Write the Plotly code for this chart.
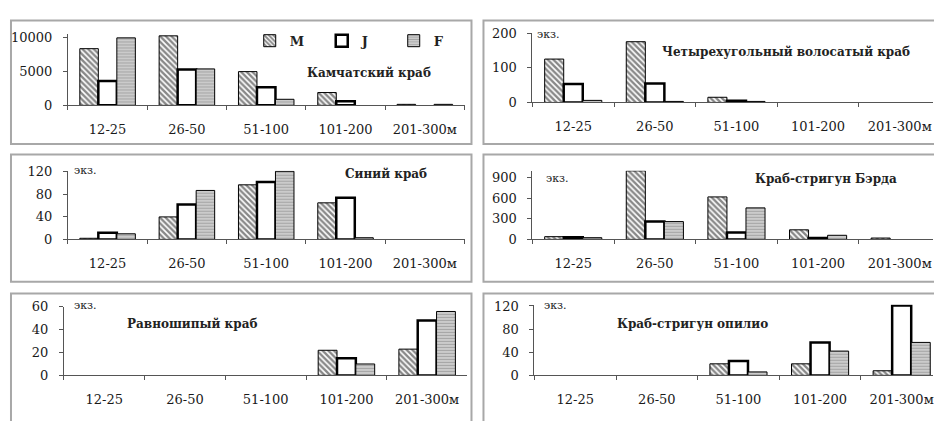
import plotly.graph_objects as go

W, H = 934, 421

categories = ["12-25", "26-50", "51-100", "101-200", "201-300м"]
series_names = ["M", "J", "F"]

# Камчатский краб
kam_M = [8400, 10300, 5000, 1900, 150]
kam_J = [3600, 5300, 2700, 600, 0]
kam_F = [10000, 5400, 900, 0, 150]

# Четырехугольный волосатый краб
chet_M = [125, 175, 15, 0, 0]
chet_J = [53, 55, 5, 0, 0]
chet_F = [6, 3, 3, 0, 0]

# Синий краб
sin_M = [2, 40, 97, 65, 0]
sin_J = [12, 62, 102, 74, 0]
sin_F = [10, 87, 121, 3, 0]

# Краб-стригун Бэрда
berd_M = [40, 1000, 620, 140, 20]
berd_J = [30, 260, 100, 20, 0]
berd_F = [25, 260, 460, 60, 0]

# Равношипый краб
rav_M = [0, 0, 0, 22, 23]
rav_J = [0, 0, 0, 15, 48]
rav_F = [0, 0, 0, 10, 56]

# Краб-стригун опилио
op_M = [0, 0, 20, 20, 8]
op_J = [0, 0, 25, 57, 121]
op_F = [0, 0, 6, 42, 57]

titles = ["Камчатский краб", "Четырехугольный волосатый краб", "Синий краб",
          "Краб-стригун Бэрда", "Равношипый краб", "Краб-стригун опилио"]
data_M = [kam_M, chet_M, sin_M, berd_M, rav_M, op_M]
data_J = [kam_J, chet_J, sin_J, berd_J, rav_J, op_J]
data_F = [kam_F, chet_F, sin_F, berd_F, rav_F, op_F]
y_max = [10500, 200, 122, 1000, 60, 122]
y_dtick = [5000, 100, 40, 300, 20, 40]
unit_label = "экз."

# panel geometry in pixels: left, right, y of zero, y of top of range, x-range max
geom = [
    dict(l=68, r=465, y0=102, yt=28.5, xmax=4.5),
    dict(l=533, r=934, y0=99, yt=27, xmax=-0.5 + (934 - 533) / 81.7),
    dict(l=68, r=465, y0=241, yt=169.8, xmax=4.5),
    dict(l=533, r=934, y0=241, yt=169.9, xmax=-0.5 + (934 - 533) / 81.7),
    dict(l=64, r=468, y0=382, yt=311, xmax=4.5),
    dict(l=535, r=934, y0=382, yt=308.8, xmax=-0.5 + (934 - 535) / 81.7),
]
title_pos = [(305, 68), (661, 47), (343, 173), (754, 178), (125, 329), (616, 329)]
unit_pos = [None, (536, 28), (72, 170), (545, 178), (72, 310), (543, 310)]

FONT = "DejaVu Serif"

def px(x):
    return x / W

def py(y):
    return 1 - y / H

def nz(vals):
    # zero counts are drawn as no bar at all
    return [v if v else None for v in vals]

fig = go.Figure()

for i in range(6):
    n = "" if i == 0 else str(i + 1)
    xa, ya = "x" + n, "y" + n
    show = i == 0
    fig.add_trace(go.Bar(
        x=categories, y=nz(data_M[i]), name=series_names[0], xaxis=xa, yaxis=ya,
        showlegend=show, legendgroup="M",
        marker=dict(color="white", line=dict(color="black", width=1),
                    pattern=dict(shape="\\", fgcolor="#111111", bgcolor="white",
                                 size=4, solidity=0.6)),
    ))
    fig.add_trace(go.Bar(
        x=categories, y=nz(data_J[i]), name=series_names[1], xaxis=xa, yaxis=ya,
        showlegend=show, legendgroup="J",
        marker=dict(color="white", line=dict(color="black", width=2.5)),
    ))
    fig.add_trace(go.Bar(
        x=categories, y=nz(data_F[i]), name=series_names[2], xaxis=xa, yaxis=ya,
        showlegend=show, legendgroup="F",
        marker=dict(color="#d0d0d0", line=dict(color="black", width=1),
                    pattern=dict(shape="-", fgcolor="#7a7a7a", bgcolor="#d0d0d0",
                                 size=3, solidity=0.4)),
    ))
    g = geom[i]
    fig.update_layout(**{
        "xaxis" + n: dict(
            domain=[px(g["l"]), px(g["r"])], anchor=ya, type="category",
            range=[-0.5, g["xmax"]], showgrid=False, zeroline=False,
            showline=True, linecolor="#555555", linewidth=1,
            ticks="outside", ticklen=4, tickcolor="#555555", tickson="boundaries",
            ticklabelstandoff=12,
            tickfont=dict(family=FONT, size=13, color="#1a1a1a"),
        ),
        "yaxis" + n: dict(
            domain=[py(g["y0"]), py(g["yt"])], anchor=xa,
            range=[0, y_max[i]], dtick=y_dtick[i], tick0=0, tickformat="d",
            showgrid=False, zeroline=False,
            showline=True, linecolor="#555555", linewidth=1,
            ticks="outside", ticklen=4, tickcolor="#555555",
            ticklabelstandoff=8,
            tickfont=dict(family=FONT, size=13, color="#1a1a1a"),
        ),
    })
    tx, ty = title_pos[i]
    fig.add_annotation(text="<b>" + titles[i] + "</b>", xref="paper", yref="paper",
                       x=px(tx), y=py(ty), xanchor="left", yanchor="middle",
                       showarrow=False, font=dict(family=FONT, size=12, color="#222222"))
    if unit_pos[i]:
        ux, uy = unit_pos[i]
        fig.add_annotation(text=unit_label, xref="paper", yref="paper",
                           x=px(ux), y=py(uy), xanchor="left", yanchor="middle",
                           showarrow=False, font=dict(family=FONT, size=11, color="#222222"))

# panel frames
frames = [(11, 472, 14, 142), (484, 945, 14, 142),
          (11, 472, 153, 285), (484, 945, 153, 285),
          (11, 472, 297, 440), (484, 945, 297, 440)]
for (x0, x1, y0, y1) in frames:
    fig.add_shape(type="rect", xref="paper", yref="paper",
                  x0=px(x0), x1=px(x1), y0=py(y0), y1=py(y1),
                  line=dict(color="#a8a8a8", width=2), layer="below")

fig.update_layout(
    width=W, height=H, margin=dict(l=0, r=0, t=0, b=0),
    paper_bgcolor="white", plot_bgcolor="white",
    barmode="group", bargap=0.3, bargroupgap=0,
    showlegend=True,
    legend=dict(orientation="h", x=px(250), y=py(35), xanchor="left", yanchor="middle",
                font=dict(family=FONT, size=13, color="#222222", weight="bold"),
                entrywidth=27, entrywidthmode="pixels", bgcolor="rgba(0,0,0,0)",
                traceorder="normal"),
)

fig.write_html("out.html")
